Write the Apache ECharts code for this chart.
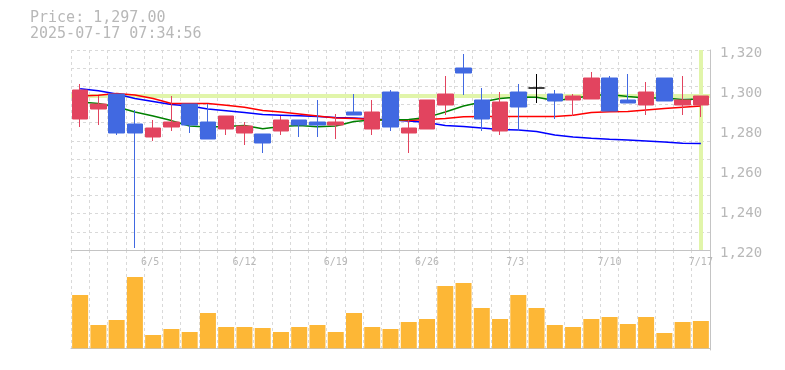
<!DOCTYPE html>
<html>
<head>
<meta charset="utf-8">
<script src="https://cdn.jsdelivr.net/npm/echarts@6/dist/echarts.min.js"></script>
<style>html,body{margin:0;padding:0;background:#fff;}#c{width:785px;height:370px;}</style>
</head>
<body>
<div id="c"></div>
<script>
const categories = ['5/30','6/2','6/3','6/4','6/5','6/6','6/9','6/10','6/11','6/12','6/13','6/16','6/17','6/18','6/19','6/20','6/23','6/24','6/25','6/26','6/27','6/30','7/1','7/2','7/3','7/4','7/7','7/8','7/9','7/10','7/11','7/14','7/15','7/16','7/17'];
const xTickLabels = ['6/5','6/12','6/19','6/26','7/3','7/10','7/17'];
const openPrices  = [1285.5,1290.5,1298,1283,1276.5,1281.5,1293,1284,1280.5,1278.5,1278,1279.5,1285,1284,1282.5,1289,1280.5,1299,1278.5,1280.5,1292.5,1311,1295,1279.5,1299,1301,1298,1295,1295.5,1306,1295,1292.5,1306,1292.5,1292.5];
const closePrices = [1300,1293,1278.5,1278.5,1281,1284,1282.5,1275.5,1287,1282,1273.5,1285,1282.5,1282.5,1284,1287.5,1289,1281.5,1281,1295,1298,1308.5,1285.5,1294,1291.5,1301,1294.5,1297,1306,1289.5,1293.5,1299,1294.5,1295,1297];
const lowPrices   = [1281.5,1282.5,1277.5,1221,1274.5,1279.5,1278.5,1275.5,1277.5,1272.5,1268.5,1277.5,1276.5,1276.5,1275.5,1287.5,1277.5,1279.5,1268.5,1280.5,1287.5,1297.5,1279.5,1277.5,1279.5,1293.5,1285.5,1287,1295.5,1289.5,1293.5,1287.5,1294.5,1287.5,1286.5];
const highPrices  = [1303,1297,1298,1290,1285,1297,1293,1293,1287,1284,1278,1287,1285,1295,1288,1298,1295,1300,1285,1295,1307,1318,1301,1299,1303,1308,1300,1298,1309,1307,1308,1304,1306,1307,1297];
const maShort = [1294,1293.2,1291.6,1289,1287,1284.7,1282,1281.5,1281.8,1282.2,1280.6,1281.7,1282.2,1281.6,1282,1284.2,1285,1285,1285.2,1286.3,1289,1292,1294,1295.8,1296.5,1296.4,1294.8,1295.8,1297.3,1297.7,1296.8,1296,1296,1295.3,1295.5];
const maMid   = [1297,1297.4,1298.2,1297.5,1295.7,1293.3,1293.2,1293.3,1292.4,1291.4,1289.8,1289,1288,1287,1286,1285.7,1285.3,1285,1284.7,1285.3,1285.8,1286.6,1286.8,1286.8,1286.8,1286.8,1286.8,1287.4,1288.8,1289.1,1289.2,1290,1290.8,1291.4,1292];
const maLong  = [1300.6,1299.6,1298,1295.8,1294.3,1292.7,1292,1290.5,1289.6,1288.7,1287.7,1287.4,1287.1,1286.7,1286.3,1286,1285.5,1285,1284.5,1283.7,1282.3,1281.8,1281,1280.3,1280,1279.3,1277.5,1276.5,1275.9,1275.4,1275,1274.5,1274,1273.4,1273.3];
const volumes = [5330,2330,2830,7130,1330,1930,1630,3530,2130,2130,2030,1630,2130,2330,1630,3530,2130,1930,2630,2930,6230,6530,4030,2930,5330,4030,2330,2130,2930,3130,2430,3130,1530,2630,2730];
const lastPrice = 1297;
const priceTitle = 'Price: 1,297.00';
const stampTitle = '2025-07-17 07:34:56';

const candleData = categories.map((c, i) => [openPrices[i], closePrices[i], lowPrices[i], highPrices[i]]);
const MONO = "'DejaVu Sans Mono', 'Liberation Mono', monospace";
const GRID_C = '#d9d9d9';
const AXIS_C = '#c4c4c4';
const TXT_C = '#b8b8b8';
const dashed = { show: true, lineStyle: { color: GRID_C, type: [3, 3], width: 1 } };

const chart = echarts.init(document.getElementById('c'), null, { renderer: 'canvas' });
chart.setOption({
  animation: false,
  backgroundColor: '#fff',
  title: {
    text: priceTitle + '\n' + stampTitle,
    left: 30, top: 10, padding: 0,
    textStyle: { fontFamily: MONO, fontSize: 15, fontWeight: 'normal', color: TXT_C, lineHeight: 16 }
  },
  grid: [
    { left: 71, right: 75, top: 50, height: 200 },
    { left: 71, right: 75, top: 250, height: 100 }
  ],
  xAxis: [
    {
      type: 'category', gridIndex: 0, data: categories, boundaryGap: true,
      axisLine: { show: true, lineStyle: { color: AXIS_C, width: 1 } },
      axisTick: { show: false },
      splitLine: Object.assign({ interval: 0 }, dashed),
      axisLabel: {
        show: true, interval: (idx, val) => xTickLabels.includes(val),
        formatter: v => (v + '    ').slice(0, 4),
        fontFamily: MONO, fontSize: 10, color: TXT_C, margin: 7
      }
    },
    {
      type: 'category', gridIndex: 1, data: categories, boundaryGap: true,
      axisLine: { show: true, lineStyle: { color: AXIS_C, width: 1 } },
      axisTick: { show: false },
      splitLine: Object.assign({ interval: 0 }, dashed),
      axisLabel: { show: false }
    }
  ],
  yAxis: [
    {
      type: 'value', gridIndex: 0, position: 'right', min: 1220, max: 1320, interval: 20,
      axisLine: { show: true, lineStyle: { color: AXIS_C, width: 1 } },
      axisTick: { show: false },
      splitLine: { show: false },
      axisLabel: {
        fontFamily: MONO, fontSize: 14, color: TXT_C, margin: 10,
        verticalAlign: 'top', lineHeight: 7,
        formatter: v => v.toLocaleString('en-US')
      }
    },
    {
      type: 'value', gridIndex: 0, position: 'left', min: 0, max: 11, interval: 1,
      axisLine: { show: false }, axisTick: { show: false }, axisLabel: { show: false },
      splitLine: dashed
    },
    {
      type: 'value', gridIndex: 1, position: 'right', min: -170, max: 9830,
      axisLine: { show: true, lineStyle: { color: AXIS_C, width: 1 } },
      axisTick: { show: false }, axisLabel: { show: false }, splitLine: { show: false }
    }
  ],
  series: [
    {
      type: 'line', xAxisIndex: 0, yAxisIndex: 0, data: [], z: 1, silent: true,
      markLine: {
        z: 1, silent: true, symbol: 'none', label: { show: false }, animation: false,
        lineStyle: { color: '#e1f5aa', width: 4, type: 'solid' },
        emphasis: { disabled: true },
        data: [{ yAxis: lastPrice }, { xAxis: categories[categories.length - 1] }]
      }
    },
    { type: 'line', name: 'MA long', data: maLong, xAxisIndex: 0, yAxisIndex: 0, z: 2, showSymbol: false, symbol: 'none', lineStyle: { color: '#0000ff', width: 1.5 } },
    { type: 'line', name: 'MA mid', data: maMid, xAxisIndex: 0, yAxisIndex: 0, z: 2, showSymbol: false, symbol: 'none', lineStyle: { color: '#ff0000', width: 1.5 } },
    { type: 'line', name: 'MA short', data: maShort, xAxisIndex: 0, yAxisIndex: 0, z: 2, showSymbol: false, symbol: 'none', lineStyle: { color: '#008000', width: 1.5 } },
    {
      type: 'candlestick', data: candleData, xAxisIndex: 0, yAxisIndex: 0, z: 3, barWidth: 16,
      itemStyle: {
        color: '#e2445f', color0: '#4169e1',
        borderColor: '#e2445f', borderColor0: '#4169e1', borderColorDoji: '#000000', borderWidth: 1
      }
    },
    {
      type: 'bar', data: volumes, xAxisIndex: 1, yAxisIndex: 2, barWidth: 16,
      itemStyle: { color: '#fdb736' }
    }
  ]
});
</script>
</body>
</html>
